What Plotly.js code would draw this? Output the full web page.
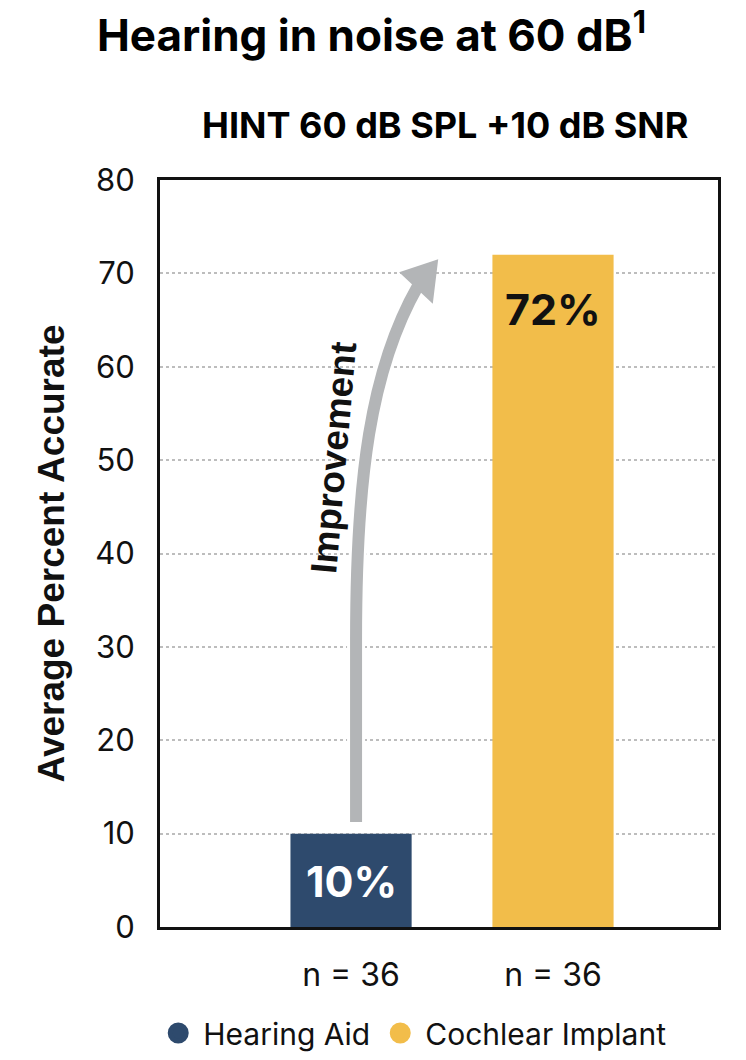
<!DOCTYPE html>
<html>
<head>
<meta charset="utf-8">
<script src="https://cdn.plot.ly/plotly-3.0.1.min.js"></script>
<style>html,body{margin:0;padding:0;background:#fff;}#chart{width:746px;height:1060px;}</style>
</head>
<body>
<div id="chart"></div>
<script>
const categories = ["Hearing Aid", "Cochlear Implant"];
const values = [10, 72];
const labels = ["10%", "72%"];
const tickLabels = ["n = 36", "n = 36"];
const yTicks = [0, 10, 20, 30, 40, 50, 60, 70, 80];
const colors = ["#2e4a6d", "#f2bd4a"];
const labelColors = ["#ffffff", "#111111"];
const xPos = [0, 1];

const FONT = "Inter, 'Open Sans', sans-serif";
const ARIAL = "'Liberation Sans', Arial, sans-serif";

const traces = [];
categories.forEach((c, i) => {
  traces.push({
    type: "bar", x: [xPos[i]], y: [values[i]], width: 0.6,
    marker: {color: colors[i]}, showlegend: false, name: c, hoverinfo: "skip"
  });
});
categories.forEach((c, i) => {
  traces.push({
    type: "scatter", mode: "markers", x: [null], y: [null], name: c,
    marker: {color: colors[i], size: 16, symbol: "circle", line: {color: colors[i], width: 5}}, showlegend: true
  });
});

// pixel->data helpers for the decorative arrow (x: 0 at 351px, 202px/unit; y: 0 at 927px, 9.333px/unit)
const px = p => +((p - 351) / 202).toFixed(4);
const py = p => +((927 - p) / 9.333).toFixed(4);
const shaft = `M ${px(356)} ${py(822)} L ${px(356)} ${py(640)} C ${px(356)} ${py(480)} ${px(370)} ${py(370)} ${px(418)} ${py(286)}`;
const head = `M ${px(437)} ${py(261)} L ${px(401)} ${py(273)} L ${px(432)} ${py(302)} Z`;

const barLabelAnns = categories.map((c, i) => ({
  text: "<b>" + labels[i] + "</b>", xref: "x", yref: "y", x: xPos[i],
  y: i === 0 ? values[i] / 2 : values[i], yshift: i === 0 ? -1 : -54,
  showarrow: false, font: {family: FONT, size: 43, color: labelColors[i], weight: 800}
}));

const layout = {
  width: 746, height: 1060,
  margin: {l: 160, r: 28, t: 180, b: 133},
  paper_bgcolor: "#fff", plot_bgcolor: "#fff",
  font: {family: FONT, color: "#111"},
  xaxis: {
    range: [-0.946, 1.817], tickvals: xPos, ticktext: tickLabels,
    showgrid: false, zeroline: false, showline: true, mirror: true,
    linecolor: "#111", linewidth: 3, ticks: "", ticklabelstandoff: 18,
    tickfont: {family: FONT, size: 32, color: "#111"}, fixedrange: true
  },
  yaxis: {
    range: [0, 80], tickvals: yTicks, showgrid: true,
    gridcolor: "#bdbdbd", griddash: "dot", gridwidth: 2,
    zeroline: false, showline: true, mirror: true, linecolor: "#111", linewidth: 3,
    ticks: "", ticklabelstandoff: 16,
    tickfont: {family: FONT, size: 31, color: "#111"},
    title: {text: "<b>Average Percent Accurate</b>", font: {family: ARIAL, size: 37, color: "#111", weight: 700}, standoff: 20},
    fixedrange: true
  },
  legend: {
    orientation: "h", xref: "container", yref: "container",
    x: 0.2054, xanchor: "left", y: 0.0255, yanchor: "middle",
    font: {family: FONT, size: 30, color: "#111"}, traceorder: "normal",
    itemwidth: 40
  },
  shapes: [
    {type: "path", path: shaft, xref: "x", yref: "y", line: {color: "#ffffff", width: 18}, layer: "above"},
    {type: "path", path: shaft, xref: "x", yref: "y", line: {color: "#b3b5b7", width: 12}, layer: "above"},
    {type: "path", path: head, xref: "x", yref: "y", line: {color: "#b3b5b7", width: 2}, fillcolor: "#b3b5b7", layer: "above"}
  ],
  annotations: [
    {text: "<b>Hearing in noise at 60 dB</b><sup><b>1</b></sup>", xref: "paper", yref: "paper",
     x: -0.117, xanchor: "left", y: 1.197, yanchor: "middle", showarrow: false,
     font: {family: FONT, size: 44, color: "#000"}},
    {text: "<b>HINT 60 dB SPL +10 dB SNR</b>", xref: "paper", yref: "paper",
     x: 0.51, xanchor: "center", y: 1.073, yanchor: "middle", showarrow: false,
     font: {family: FONT, size: 36, color: "#000"}},
    {text: "<b>Improvement</b>", xref: "x", yref: "y", x: px(334), y: py(458),
     textangle: -85, showarrow: false, font: {family: ARIAL, size: 37, color: "#111", weight: 700}}
  ].concat(barLabelAnns)
};

Plotly.newPlot("chart", traces, layout, {displayModeBar: false, staticPlot: true});
</script>
</body>
</html>
